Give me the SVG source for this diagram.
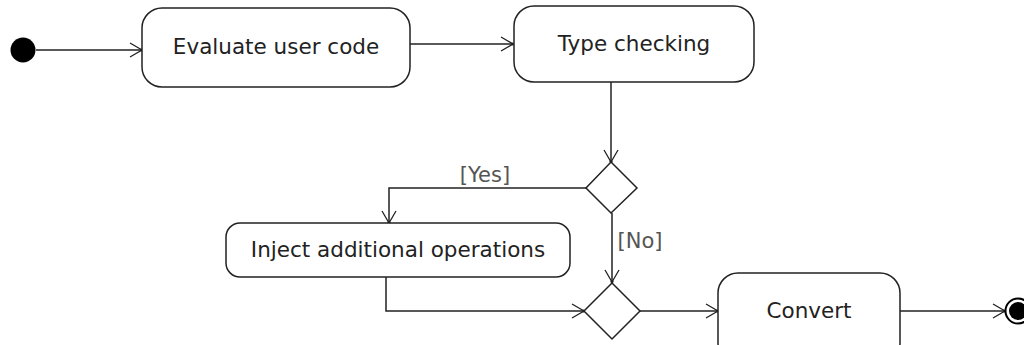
<svg xmlns="http://www.w3.org/2000/svg" width="1024" height="345" viewBox="0 0 1024 345">
<style>
.box{fill:#fff;stroke:#222;stroke-width:1.5}
.edge{fill:none;stroke:#222;stroke-width:1.5}
.t{font-family:"DejaVu Sans",Verdana,sans-serif;font-size:21.5px;fill:#222;text-anchor:middle}
.g{font-family:"DejaVu Sans",Verdana,sans-serif;font-size:21px;fill:#555;text-anchor:middle}
</style>
<defs>
<marker id="arr" viewBox="-14 -8 16 16" markerWidth="16" markerHeight="16" refX="0" refY="0" orient="auto" markerUnits="userSpaceOnUse">
<path d="M-12,-7 L0,0 L-12,7" fill="none" stroke="#222" stroke-width="1.3"/>
<circle cx="-0.5" cy="0" r="1.6" fill="#222"/>
</marker>
</defs>
<g id="connectors">
<path class="edge" d="M36,50 H142" marker-end="url(#arr)"/>
<path class="edge" d="M410,44 H513" marker-end="url(#arr)"/>
<path class="edge" d="M611,82 V162" marker-end="url(#arr)"/>
<path class="edge" d="M586,188 H389 V223" marker-end="url(#arr)"/>
<path class="edge" d="M612,213 V282" marker-end="url(#arr)"/>
<path class="edge" d="M386,277 V311 H584" marker-end="url(#arr)"/>
<path class="edge" d="M640,311 H718" marker-end="url(#arr)"/>
<path class="edge" d="M900,311 H1005" marker-end="url(#arr)"/>
<text class="g" x="485" y="182">[Yes]</text>
<text class="g" x="640" y="248">[No]</text>
</g>
<g id="initial"><circle cx="23" cy="50" r="12.5" fill="#000"/></g>
<g id="evaluate"><rect class="box" x="142" y="8" width="268" height="79" rx="20"/><text class="t" x="276" y="54">Evaluate user code</text></g>
<g id="typecheck"><rect class="box" x="514" y="6" width="240" height="76" rx="20"/><text class="t" x="634" y="51">Type checking</text></g>
<g id="decision"><polygon class="box" points="611,162 637,188 611,213 586,188"/></g>
<g id="inject"><rect class="box" x="226" y="223" width="344" height="54" rx="14"/><text class="t" x="398" y="257">Inject additional operations</text></g>
<g id="merge"><polygon class="box" points="612,283 640,311 612,339 584,311"/></g>
<g id="convert"><rect class="box" x="718" y="273" width="182" height="90" rx="20"/><text class="t" x="809" y="318">Convert</text></g>
<g id="final"><circle cx="1018" cy="311" r="12.5" fill="#fff" stroke="#000" stroke-width="2"/><circle cx="1018" cy="311" r="9" fill="#000"/></g>
</svg>
